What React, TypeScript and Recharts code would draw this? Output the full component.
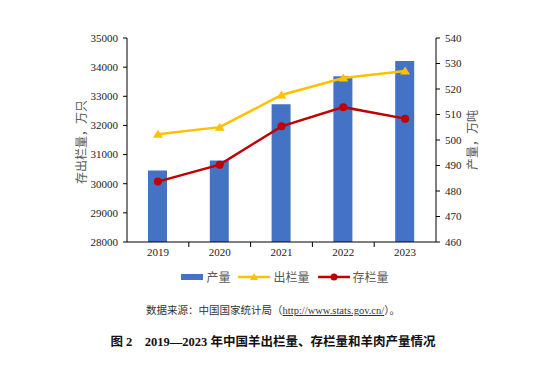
import React from "react";
import {
  Bar,
  ComposedChart,
  Line,
  XAxis,
  YAxis
} from "recharts";

const years = ["2019", "2020", "2021", "2022", "2023"];
const production = [488, 492, 514, 525, 531];
const slaughter = [31699, 31941, 33045, 33624, 33864];
const stock = [30072, 30655, 31969, 32627, 32233];

const leftTicks = [28000, 29000, 30000, 31000, 32000, 33000, 34000, 35000];
const rightTicks = [460, 470, 480, 490, 500, 510, 520, 530, 540];

const data = years.map((year, i) => ({
  year,
  production: production[i],
  slaughter: slaughter[i],
  stock: stock[i]
}));

const BLUE = "#4472C4";
const YELLOW = "#FFC000";
const RED = "#C00000";
const SERIF = "'Liberation Serif', 'Times New Roman', 'Noto Sans CJK SC', serif";
const CJK = "'Liberation Serif', 'Noto Sans CJK SC', serif";

const PLOT_WIDTH = 309;
const BAND = PLOT_WIDTH / years.length;

function YearTick(props: any) {
  const { x, y, payload, index } = props;
  return (
    <g>
      {index > 0 && (
        <line x1={x - BAND / 2} x2={x - BAND / 2} y1={y - 8} y2={y - 3} stroke="#000" />
      )}
      <text
        x={x}
        y={y + 6}
        textAnchor="middle"
        fontFamily={SERIF}
        fontSize={11}
        fill="#222"
      >
        {payload.value}
      </text>
    </g>
  );
}

function TriangleDot(props: any) {
  const { cx, cy } = props;
  if (cx == null || cy == null) return null;
  return (
    <path
      d={`M${cx},${cy - 4.5} L${cx + 5},${cy + 3.5} L${cx - 5},${cy + 3.5} Z`}
      fill={YELLOW}
    />
  );
}

function LegendBox() {
  return (
    <div
      style={{
        position: "absolute",
        top: 268,
        left: 0,
        width: 546,
        display: "flex",
        justifyContent: "center",
        gap: 8,
        fontFamily: CJK,
        fontSize: 12,
        color: "#595959"
      }}
    >
      <span style={{ display: "flex", alignItems: "center", marginLeft: 24 }}>
        <svg width={22} height={14}>
          <rect x={0} y={4} width={22} height={6} fill={BLUE} />
        </svg>
        <span style={{ marginLeft: 3 }}>产量</span>
      </span>
      <span style={{ display: "flex", alignItems: "center" }}>
        <svg width={32} height={14}>
          <line x1={0} x2={32} y1={7} y2={7} stroke={YELLOW} strokeWidth={2.5} />
          <path d="M16,3 L20,10 L12,10 Z" fill={YELLOW} />
        </svg>
        <span style={{ marginLeft: 3 }}>出栏量</span>
      </span>
      <span style={{ display: "flex", alignItems: "center" }}>
        <svg width={32} height={14}>
          <line x1={0} x2={32} y1={7} y2={7} stroke={RED} strokeWidth={2.5} />
          <circle cx={16} cy={7} r={3.5} fill={RED} />
        </svg>
        <span style={{ marginLeft: 3 }}>存栏量</span>
      </span>
    </div>
  );
}

export default function App() {
  return (
    <div
      style={{
        position: "absolute",
        left: 0,
        top: 0,
        width: 546,
        height: 374,
        background: "#fff"
      }}
    >
      <ComposedChart
        width={546}
        height={290}
        data={data}
        margin={{ top: 38, right: 50, left: 67, bottom: 18 }}
        barCategoryGap="34%"
      >
        <XAxis
          dataKey="year"
          height={30}
          axisLine={{ stroke: "#000" }}
          tickLine={false}
          tickSize={0}
          tickMargin={8}
          tick={<YearTick />}
          interval={0}
        />
        <YAxis
          yAxisId="left"
          orientation="left"
          width={60}
          domain={[28000, 35000]}
          ticks={leftTicks}
          interval={0}
          axisLine={{ stroke: "#000" }}
          tickLine={{ stroke: "#000" }}
          tickSize={4}
          tickMargin={5}
          tick={{ fontFamily: SERIF, fontSize: 11, fill: "#222" }}
          label={{
            content: () => (
              <text
                x={82}
                y={142}
                transform="rotate(-90 82 142)"
                textAnchor="middle"
                dominantBaseline="central"
                fontFamily={CJK}
                fontSize={12}
                fill="#595959"
              >
                存出栏量，万只
              </text>
            )
          }}
        />
        <YAxis
          yAxisId="right"
          orientation="right"
          width={60}
          domain={[460, 540]}
          ticks={rightTicks}
          interval={0}
          axisLine={{ stroke: "#000" }}
          tickLine={{ stroke: "#000" }}
          tickSize={4}
          tickMargin={5}
          tick={{ fontFamily: SERIF, fontSize: 11, fill: "#222" }}
          label={{
            content: () => (
              <text
                x={473}
                y={140}
                transform="rotate(-90 473 140)"
                textAnchor="middle"
                dominantBaseline="central"
                fontFamily={CJK}
                fontSize={12}
                fill="#595959"
              >
                产量，万吨
              </text>
            )
          }}
        />
        <Bar
          yAxisId="right"
          dataKey="production"
          fill={BLUE}
          barSize={19}
          isAnimationActive={false}
        />
        <Line
          yAxisId="left"
          dataKey="slaughter"
          stroke={YELLOW}
          strokeWidth={2.5}
          dot={<TriangleDot />}
          activeDot={false}
          isAnimationActive={false}
        />
        <Line
          yAxisId="left"
          dataKey="stock"
          stroke={RED}
          strokeWidth={2.5}
          dot={{ r: 4, fill: RED, stroke: RED, strokeWidth: 0 }}
          activeDot={false}
          isAnimationActive={false}
        />
      </ComposedChart>
      <LegendBox />
      <div
        style={{
          position: "absolute",
          top: 302,
          left: 0,
          width: 546,
          textAlign: "center",
          fontFamily: CJK,
          fontSize: 10.5,
          color: "#333"
        }}
      >
        数据来源：中国国家统计局（<span style={{ textDecoration: "underline" }}>http://www.stats.gov.cn/</span>）。
      </div>
      <div
        style={{
          position: "absolute",
          top: 331,
          left: 0,
          width: 546,
          textAlign: "center",
          fontFamily: CJK,
          fontSize: 12.5,
          fontWeight: "bold",
          color: "#111"
        }}
      >
        图 2　2019—2023 年中国羊出栏量、存栏量和羊肉产量情况
      </div>
    </div>
  );
}
